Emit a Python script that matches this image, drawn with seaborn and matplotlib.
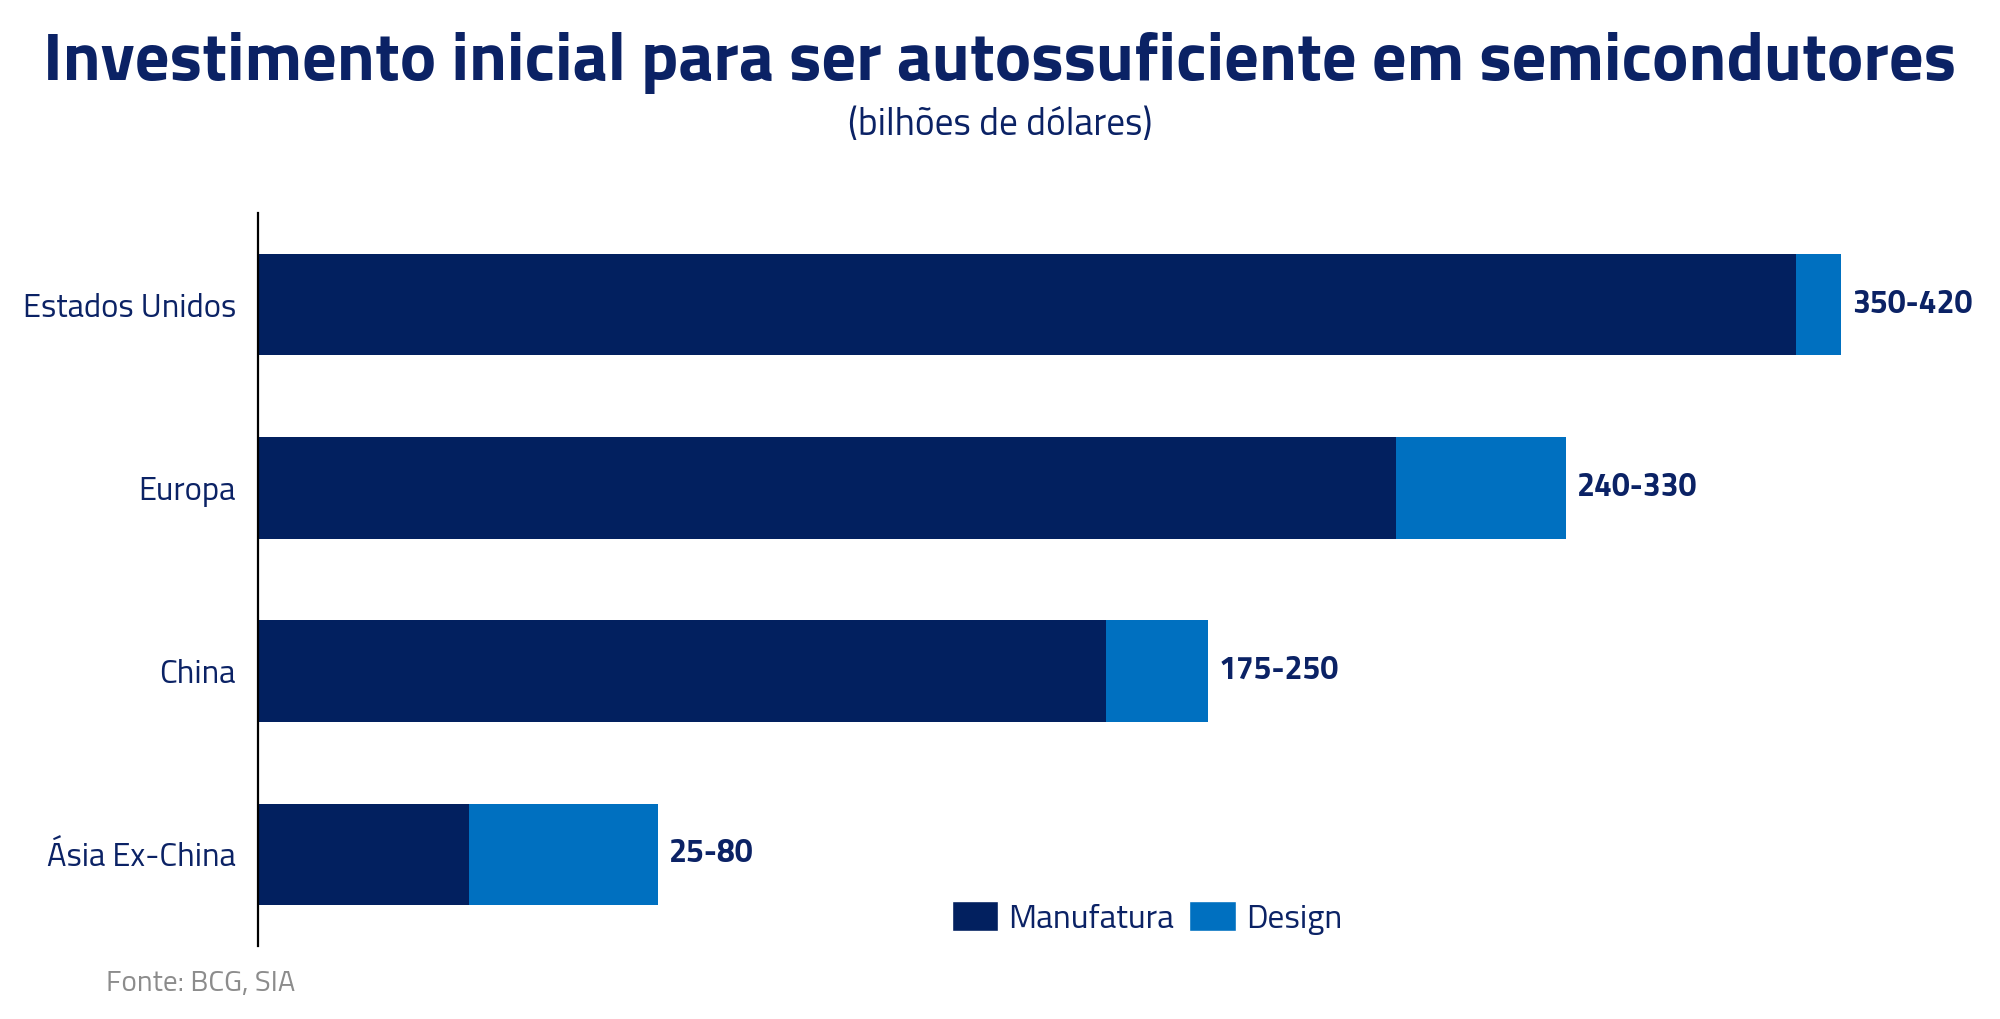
import matplotlib
matplotlib.use("Agg")
import matplotlib.pyplot as plt
import seaborn as sns
import pandas as pd
from matplotlib.patches import Patch
from matplotlib import font_manager

regioes = ["Estados Unidos", "Europa", "China", "Ásia Ex-China"]
manufatura = [408, 302, 225, 56]
design = [12, 45, 27, 50]
faixas = ["350-420", "240-330", "175-250", "25-80"]

NAVY = "#02205F"
BLUE = "#0070C0"
TEXT = "#0B2265"

sns.set_theme(style="white")
names = {f.name for f in font_manager.fontManager.ttflist}
base = "DejaVu Sans"
for cand in ["Titillium Web", "Fira Sans Condensed", "Roboto Condensed", "Open Sans"]:
    if cand in names:
        base = cand
        break
plt.rcParams["font.family"] = [base, "DejaVu Sans"]

df = pd.DataFrame({"regiao": regioes, "manufatura": manufatura, "design": design})
df["total"] = df["manufatura"] + df["design"]

fig = plt.figure(figsize=(20, 10.19), dpi=100)
ax = fig.add_axes([0.129, 0.0716, 0.821, 0.7194])

sns.barplot(data=df, x="total", y="regiao", color=BLUE, width=0.555, ax=ax,
            saturation=1, orient="h", linewidth=0)
sns.barplot(data=df, x="manufatura", y="regiao", color=NAVY, width=0.555, ax=ax,
            saturation=1, orient="h", linewidth=0)

ax.bar_label(ax.containers[0], labels=faixas, padding=8, fontsize=23,
             fontweight="bold", color=TEXT)

ax.set_xlim(0, 435.6)
ax.set_ylim(3.5, -0.5)
ax.set_xlabel("")
ax.set_ylabel("")
ax.set_xticks([])
for s in ["top", "right", "bottom"]:
    ax.spines[s].set_visible(False)
ax.spines["left"].set_color("black")
ax.spines["left"].set_linewidth(1.6)
ax.tick_params(axis="y", length=0, pad=16, labelsize=23.5, labelcolor=TEXT)

title = fig.text(0.5, 0.938, "Investimento inicial para ser autossuficiente em semicondutores",
                 ha="center", va="center", fontsize=49.5, fontweight="bold", color=TEXT)
fig.text(0.5, 0.877, "(bilhões de dólares)", ha="center", va="center",
         fontsize=27, color=TEXT)
fig.text(0.053, 0.034, "Fonte: BCG, SIA", ha="left", va="center",
         fontsize=21, color="#8C8C8C")

# fit title width to the reference (~1913 px)
fig.canvas.draw()
w = title.get_window_extent().width
title.set_fontsize(49.5 * 1913 / w)

handles = [Patch(facecolor=NAVY, label="Manufatura"),
           Patch(facecolor=BLUE, label="Design")]
leg = fig.legend(handles=handles, loc="center", bbox_to_anchor=(0.5735, 0.099),
                 ncol=2, frameon=False, fontsize=24, handlelength=1.4,
                 handleheight=1.0, handletextpad=0.3, columnspacing=0.45)
for t in leg.get_texts():
    t.set_color(TEXT)

fig.savefig("out.png", dpi=100, facecolor="white")
